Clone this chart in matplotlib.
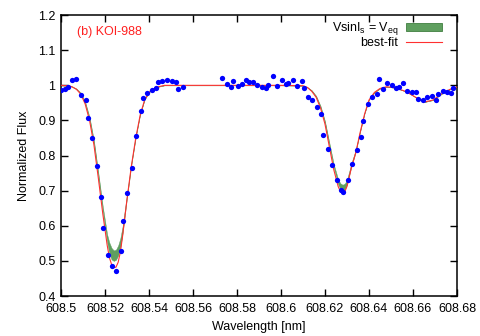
import numpy as np
import matplotlib
matplotlib.use("Agg")
import matplotlib.pyplot as plt
from matplotlib.patches import Patch
from matplotlib.lines import Line2D
from matplotlib.ticker import FuncFormatter

# observed spectrum (wavelength nm, normalized flux)
obsWave = [608.5000, 608.5020, 608.5030, 608.5051, 608.5070, 608.5091, 608.5112, 608.5121,
           608.5142, 608.5162, 608.5182, 608.5192, 608.5212, 608.5232, 608.5251, 608.5271,
           608.5282, 608.5301, 608.5321, 608.5341, 608.5362, 608.5371, 608.5392, 608.5412,
           608.5432, 608.5442, 608.5460, 608.5483, 608.5503, 608.5523, 608.5533, 608.5553,
           608.5732, 608.5753, 608.5773, 608.5783, 608.5803, 608.5823, 608.5842, 608.5853,
           608.5873, 608.5892, 608.5914, 608.5933, 608.5942, 608.5964, 608.5983, 608.6003,
           608.6023, 608.6033, 608.6053, 608.6073, 608.6094, 608.6103, 608.6123, 608.6142,
           608.6162, 608.6183, 608.6192, 608.6214, 608.6233, 608.6253, 608.6273, 608.6283,
           608.6303, 608.6323, 608.6344, 608.6364, 608.6373, 608.6394, 608.6414, 608.6435,
           608.6444, 608.6464, 608.6483, 608.6505, 608.6524, 608.6535, 608.6553, 608.6574,
           608.6594, 608.6612, 608.6624, 608.6644, 608.6665, 608.6685, 608.6705, 608.6715,
           608.6735, 608.6755, 608.6774, 608.6783]
obsFlux = [0.986, 0.990, 0.995, 1.016, 1.019, 0.972, 0.959, 0.908,
           0.849, 0.771, 0.683, 0.595, 0.516, 0.485, 0.470, 0.529,
           0.615, 0.693, 0.765, 0.857, 0.926, 0.963, 0.978, 0.988,
           0.993, 1.009, 1.012, 1.015, 1.013, 1.009, 0.991, 0.996,
           1.020, 1.004, 0.996, 1.012, 0.998, 1.005, 1.015, 1.010,
           1.010, 1.000, 0.996, 0.993, 1.001, 1.026, 0.998, 1.015,
           1.004, 1.007, 1.015, 0.999, 1.013, 0.992, 0.967, 0.958,
           0.939, 0.917, 0.859, 0.820, 0.772, 0.731, 0.703, 0.696,
           0.730, 0.775, 0.815, 0.852, 0.899, 0.948, 0.966, 0.976,
           1.018, 0.990, 1.006, 1.002, 0.993, 0.995, 1.007, 0.983,
           0.980, 0.980, 0.962, 0.959, 0.968, 0.969, 0.958, 0.975,
           0.985, 0.980, 0.977, 0.992]

# model curves
modelWave = [608.500, 608.503, 608.505, 608.507, 608.509, 608.511, 608.513, 608.515,
             608.517, 608.519, 608.521, 608.522, 608.523, 608.524, 608.525, 608.526,
             608.527, 608.528, 608.530, 608.532, 608.534, 608.536, 608.538, 608.540,
             608.543, 608.547, 608.552, 608.560, 608.580, 608.600, 608.610, 608.612,
             608.614, 608.616, 608.618, 608.620, 608.622, 608.624, 608.626, 608.627,
             608.628, 608.629, 608.630, 608.632, 608.634, 608.636, 608.638, 608.640,
             608.6425, 608.645, 608.648, 608.652, 608.657, 608.6615, 608.6655, 608.669,
             608.674, 608.678, 608.680]
bestFit = [1.000, 0.999, 0.996, 0.989, 0.975, 0.947, 0.900, 0.830,
           0.735, 0.635, 0.545, 0.510, 0.490, 0.481, 0.482, 0.496,
           0.525, 0.570, 0.675, 0.770, 0.850, 0.915, 0.958, 0.980,
           0.994, 1.000, 1.000, 1.000, 1.000, 1.000, 0.999, 0.994,
           0.983, 0.966, 0.935, 0.890, 0.825, 0.760, 0.712, 0.698,
           0.692, 0.697, 0.712, 0.765, 0.808, 0.866, 0.918, 0.958,
           0.980, 0.991, 0.996, 0.993, 0.982, 0.965, 0.953, 0.958,
           0.980, 0.992, 0.995]
bandLow = [1.000, 0.999, 0.996, 0.989, 0.976, 0.949, 0.903, 0.834,
           0.740, 0.641, 0.553, 0.520, 0.504, 0.500, 0.503, 0.515,
           0.538, 0.578, 0.679, 0.773, 0.852, 0.917, 0.959, 0.980,
           0.994, 1.000, 1.000, 1.000, 1.000, 1.000, 0.999, 0.994,
           0.984, 0.967, 0.937, 0.893, 0.829, 0.765, 0.718, 0.705,
           0.700, 0.704, 0.717, 0.769, 0.811, 0.868, 0.920, 0.959,
           0.980, 0.991, 0.996, 0.993, 0.982, 0.965, 0.953, 0.958,
           0.980, 0.992, 0.995]
bandHigh = [1.000, 0.999, 0.997, 0.991, 0.979, 0.953, 0.909, 0.842,
            0.750, 0.655, 0.575, 0.552, 0.537, 0.530, 0.532, 0.544,
            0.565, 0.598, 0.690, 0.781, 0.858, 0.921, 0.961, 0.982,
            0.995, 1.000, 1.000, 1.000, 1.000, 1.000, 0.999, 0.995,
            0.986, 0.970, 0.941, 0.898, 0.836, 0.775, 0.732, 0.721,
            0.717, 0.720, 0.731, 0.778, 0.817, 0.873, 0.923, 0.961,
            0.981, 0.991, 0.996, 0.993, 0.982, 0.965, 0.953, 0.958,
            0.980, 0.992, 0.995]

xTicks = [608.5, 608.52, 608.54, 608.56, 608.58, 608.6, 608.62, 608.64, 608.66, 608.68]
yTicks = [0.4, 0.5, 0.6, 0.7, 0.8, 0.9, 1.0, 1.1, 1.2]

plt.rcParams['font.family'] = ['Liberation Sans', 'DejaVu Sans']
plt.rcParams['mathtext.default'] = 'regular'


def plotSpectrum():
    fig = plt.figure(figsize=(4.8, 3.36), dpi=100)
    ax = fig.add_axes([0.127, 0.119, 0.825, 0.836])

    ax.fill_between(modelWave, bandLow, bandHigh, color='#5f9f5f', lw=0.3, zorder=2)
    ax.plot(modelWave, bestFit, color='#ff3030', lw=0.8, zorder=3)
    ax.plot(obsWave, obsFlux, 'o', color='#0000ff', ms=3.8, mec='none', zorder=4)

    ax.set_xlim(608.5, 608.68)
    ax.set_ylim(0.4, 1.2)
    ax.set_xticks(xTicks)
    ax.set_yticks(yTicks)
    fmt = FuncFormatter(lambda v, p: f"{v:g}")
    ax.xaxis.set_major_formatter(fmt)
    ax.yaxis.set_major_formatter(fmt)
    ax.tick_params(direction='in', top=True, right=True, length=5, width=1,
                   labelsize=9, colors='black')
    ax.tick_params(axis='x', pad=5)
    ax.tick_params(axis='y', pad=4)
    for s in ax.spines.values():
        s.set_linewidth(1.1)

    ax.set_xlabel("Wavelength [nm]", fontsize=9, labelpad=4)
    ax.set_ylabel("Normalized Flux", fontsize=9, labelpad=6)

    ax.text(0.04, 0.94, "(b) KOI-988", color='#ff2020', fontsize=9,
            transform=ax.transAxes, ha='left', va='center')

    handles = [Patch(facecolor='#5f9f5f', edgecolor='#3f7f3f', lw=0.6),
               Line2D([], [], color='#ff3030', lw=0.8)]
    ax.legend(handles, ["VsinI$_s$ = V$_{eq}$", "best-fit"], loc='upper right',
              markerfirst=False, frameon=False, fontsize=9, handlelength=2.9,
              handleheight=0.5, handletextpad=0.6, labelspacing=0.0,
              borderaxespad=0.3, bbox_to_anchor=(0.985, 1.012))

    fig.savefig("out.png", dpi=100)


def main():
    plotSpectrum()


if __name__ == "__main__":
    main()
